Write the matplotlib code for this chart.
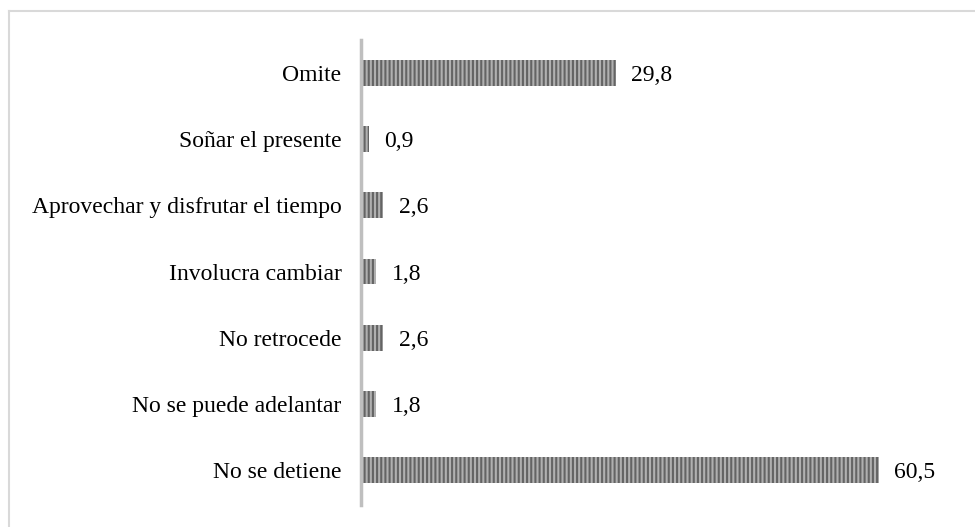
import matplotlib.pyplot as plt
from matplotlib.lines import Line2D

# Datos (de abajo hacia arriba)
categorias = ["No se detiene", "No se puede adelantar", "No retrocede",
              "Involucra cambiar", "Aprovechar y disfrutar el tiempo",
              "Soñar el presente", "Omite"]
valores = [60.5, 1.8, 2.6, 1.8, 2.6, 0.9, 29.8]
etiquetas = ["60,5", "1,8", "2,6", "1,8", "2,6", "0,9", "29,8"]

plt.rcParams['font.family'] = ['Liberation Serif', 'DejaVu Serif']
plt.rcParams['hatch.linewidth'] = 1.5

fig = plt.figure(figsize=(9.75, 5.27), dpi=100)
ax = fig.add_axes([361 / 975, 1 - 505 / 527, 560 / 975, 465 / 527])

y = list(range(len(categorias)))
ax.barh(y, valores, height=0.39, color='#b0b0b0', edgecolor='#646464',
        linewidth=0, hatch='||||')

for yi, v, t in zip(y, valores, etiquetas):
    ax.annotate(t, (v, yi), xytext=(11, 0), textcoords='offset points',
                va='center_baseline', ha='left', fontsize=17)

ax.set_xlim(0, 560 / 8.56)
ax.set_ylim(-0.53, 6.5)
ax.set_yticks(y)
ax.set_yticklabels(categorias, fontsize=17)
ax.tick_params(axis='y', length=0, pad=14)
ax.set_xticks([])

for s in ['top', 'right', 'bottom']:
    ax.spines[s].set_visible(False)
ax.spines['left'].set_color('#bfbfbf')
ax.spines['left'].set_linewidth(2.5)

# marco exterior (solo arriba e izquierda visibles)
fig.add_artist(Line2D([8.5 / 975, 1], [1 - 10.5 / 527] * 2, color='#d9d9d9', lw=1.5))
fig.add_artist(Line2D([8.5 / 975] * 2, [0, 1 - 10.5 / 527], color='#d9d9d9', lw=1.5))

fig.savefig('out.png', dpi=100)
